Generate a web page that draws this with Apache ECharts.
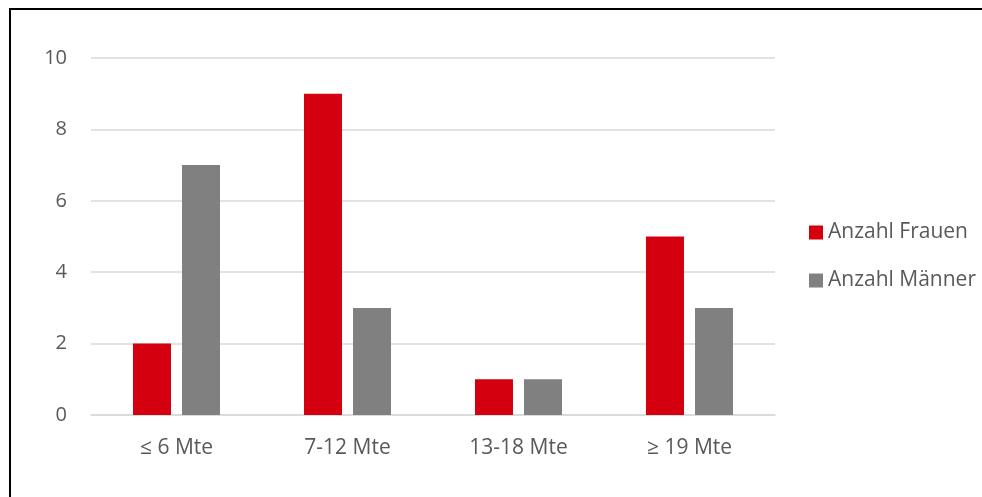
<!DOCTYPE html>
<html>
<head>
<meta charset="utf-8">
<script src="https://cdn.jsdelivr.net/npm/echarts@6/dist/echarts.min.js"></script>
<style>
  html, body { margin: 0; padding: 0; background: #fff; }
  #chart { width: 982px; height: 497px; }
</style>
</head>
<body>
<div id="chart"></div>
<script>
// Dauer-Kategorien (Monate) und Anzahl je Geschlecht
const categories = ['≤ 6 Mte', '7-12 Mte', '13-18 Mte', '≥ 19 Mte'];
const frauen = [2, 9, 1, 5];
const maenner = [7, 3, 1, 3];
const yTicks = { min: 0, max: 10, interval: 2 };

const chart = echarts.init(document.getElementById('chart'), null, { renderer: 'canvas' });
const fontFamily = '"Open Sans", "Liberation Sans", sans-serif';

chart.setOption({
  animation: false,
  backgroundColor: '#ffffff',
  grid: { left: 91, right: 207, top: 58, bottom: 82, containLabel: false },
  legend: {
    orient: 'vertical',
    left: 809,
    top: 222,
    padding: 0,
    itemWidth: 14,
    itemHeight: 14,
    itemGap: 27,
    icon: 'rect',
    textStyle: { color: '#595959', fontSize: 21, fontFamily: fontFamily, lineHeight: 21 },
    data: ['Anzahl Frauen', 'Anzahl Männer']
  },
  xAxis: {
    type: 'category',
    data: categories,
    axisLine: { lineStyle: { color: '#d9d9d9', width: 1.5 } },
    axisTick: { show: false },
    axisLabel: { color: '#595959', fontSize: 21, fontFamily: fontFamily, margin: 23 }
  },
  yAxis: {
    type: 'value',
    min: yTicks.min,
    max: yTicks.max,
    interval: yTicks.interval,
    axisLine: { show: false },
    axisTick: { show: false },
    axisLabel: { color: '#595959', fontSize: 20, fontFamily: fontFamily, margin: 24 },
    splitLine: { lineStyle: { color: '#d9d9d9', width: 1.5 } }
  },
  series: [
    {
      name: 'Anzahl Frauen',
      type: 'bar',
      data: frauen,
      barWidth: 38,
      barGap: '29%',
      itemStyle: { color: '#d5000f' }
    },
    {
      name: 'Anzahl Männer',
      type: 'bar',
      data: maenner,
      barWidth: 38,
      itemStyle: { color: '#808080' }
    }
  ],
  graphic: [
    { type: 'line', shape: { x1: 9, y1: 9, x2: 982, y2: 9 }, style: { stroke: '#000', lineWidth: 2 } },
    { type: 'line', shape: { x1: 10, y1: 8, x2: 10, y2: 497 }, style: { stroke: '#000', lineWidth: 2 } }
  ]
});
</script>
</body>
</html>
